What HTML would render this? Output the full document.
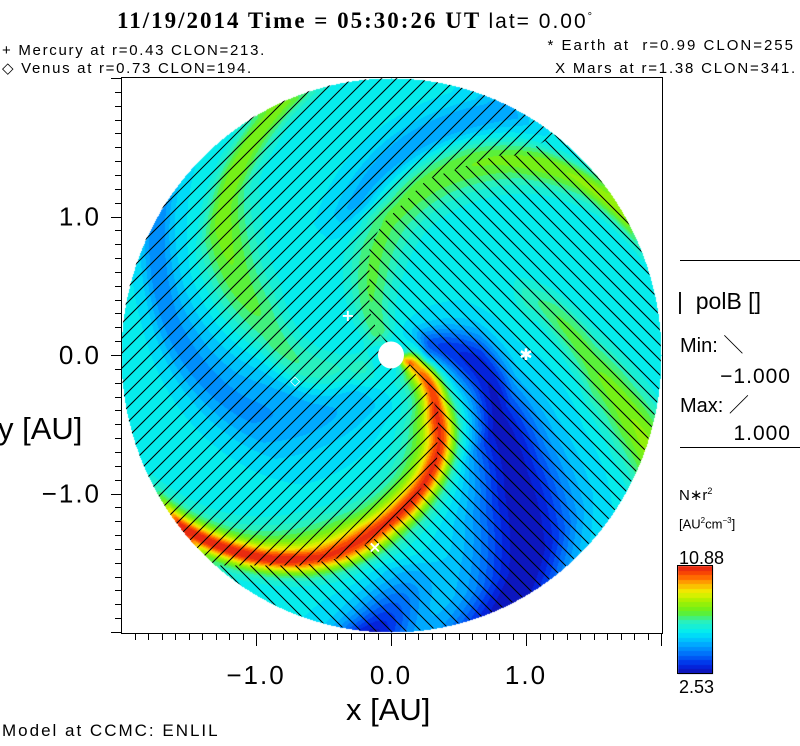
<!DOCTYPE html>
<html><head><meta charset="utf-8">
<style>
html,body{margin:0;padding:0;background:#fff;}
#root{position:relative;width:800px;height:746px;overflow:hidden;font-family:"Liberation Sans",sans-serif;color:#000;}
.t{position:absolute;white-space:nowrap;line-height:1;}
canvas{position:absolute;left:0;top:0;}
svg{position:absolute;left:0;top:0;}
</style></head>
<body>
<div id="root">
<canvas id="heat" width="800" height="746"></canvas>
<svg id="ov" width="800" height="746"></svg>

<div class="t" style="left:117px;top:9px;font-family:'Liberation Serif',serif;font-weight:bold;font-size:23px;letter-spacing:2px;">11/19/2014 Time = 05:30:26 UT <span style="font-family:'Liberation Sans',sans-serif;font-weight:normal;font-size:21px;letter-spacing:2px;">lat= 0.00<sup style="font-size:11px">°</sup></span></div>
<div class="t" style="left:2px;top:43px;font-size:15px;letter-spacing:1.7px;">+ Mercury at r=0.43 CLON=213.</div>
<div class="t" style="left:2px;top:61px;font-size:15px;letter-spacing:1.7px;">◇ Venus at r=0.73 CLON=194.</div>
<div class="t" style="right:5px;top:38px;font-size:15px;letter-spacing:2px;">* Earth at &nbsp;r=0.99 CLON=255</div>
<div class="t" style="right:3px;top:61px;font-size:15px;letter-spacing:1.8px;">X Mars at r=1.38 CLON=341.</div>

<div class="t" style="left:-2px;top:413px;font-size:31px;">y [AU]</div>
<div class="t" style="left:346px;top:694px;font-size:31px;">x [AU]</div>
<div class="t" style="left:2px;top:722px;font-size:17px;letter-spacing:2px;">Model at CCMC: ENLIL</div>

<div class="t" style="left:677px;top:290px;font-size:23px;">|&nbsp; polB []</div>
<div class="t" style="left:680px;top:336px;font-size:20px;">Min: ＼</div>
<div class="t" style="right:9px;top:366px;font-size:21px;letter-spacing:1px;">−1.000</div>
<div class="t" style="left:680px;top:396px;font-size:20px;">Max: ／</div>
<div class="t" style="right:9px;top:423px;font-size:21px;letter-spacing:1px;">1.000</div>
<div class="t" style="left:679px;top:487px;font-size:15px;">N∗r<sup style="font-size:9px">2</sup></div>
<div class="t" style="left:679px;top:517px;font-size:13px;">[AU<sup style="font-size:8px">2</sup>cm<sup style="font-size:8px">−3</sup>]</div>
<div class="t" style="left:679px;top:549px;font-size:18px;">10.88</div>
<div class="t" style="left:679px;top:678px;font-size:18px;">2.53</div>
</div>

<script>
// ---- data ----
const vMin = 2.53, vMax = 10.88;
const baseFrac = 0.38;
const xTickLabels = ["−1.0", "0.0", "1.0"];
const xTickValues = [-1, 0, 1];
const yTickLabels = ["1.0", "0.0", "−1.0"];
const yTickValues = [1, 0, -1];
// spiral structures: radii (AU), centre angle (deg), amplitude (fraction of range), width (AU)
const armA_r = [0.15, 0.52, 0.71, 0.88, 1.06, 1.27, 1.51, 1.69, 1.84, 1.98];
const armA_th = [-20, -50, -59, -70, -82, -95, -107, -119, -130, -141];
const armA_amp = [0.3, 0.32, 0.32, 0.32, 0.32, 0.32, 0.33, 0.34, 0.34, 0.34];
const armA_w = [0.05, 0.07, 0.08, 0.09, 0.1, 0.11, 0.12, 0.13, 0.14, 0.14];
const haloA_r = [0.15, 0.52, 0.88, 1.27, 1.69, 1.98];
const haloA_th = [-22, -54, -73, -98, -121, -140];
const haloA_amp = [0.22, 0.28, 0.28, 0.28, 0.28, 0.28];
const haloA_w = [0.1, 0.15, 0.19, 0.23, 0.25, 0.25];
const armB_r = [0.21, 0.56, 0.94, 1.26, 1.59, 1.83, 1.98];
const armB_th = [119, 105, 92, 78, 62, 47, 33];
const armB_amp = [0.15, 0.17, 0.17, 0.19, 0.21, 0.24, 0.28];
const armB_w = [0.08, 0.13, 0.17, 0.2, 0.22, 0.22, 0.22];
const armB2_r = [1.1, 1.27, 1.51, 1.78, 2.0];
const armB2_th = [22, 11, -4, -13, -19];
const armB2_amp = [0.1, 0.17, 0.2, 0.24, 0.26];
const armB2_w = [0.12, 0.15, 0.17, 0.18, 0.18];
const armC_r = [0.25, 0.54, 0.68, 0.97, 1.31, 1.61, 1.80, 1.98];
const armC_th = [201, 193, 186, 165, 152, 141, 128, 115];
const armC_amp = [0.1, 0.14, 0.15, 0.16, 0.2, 0.23, 0.24, 0.23];
const armC_w = [0.08, 0.12, 0.14, 0.17, 0.2, 0.2, 0.2, 0.2];
const lowL1_r = [0.3, 0.66, 0.93, 1.31, 1.8, 2.0];
const lowL1_th = [12, -8, -32, -45, -56, -64];
const lowL1_amp = [-0.26, -0.33, -0.36, -0.37, -0.38, -0.38];
const lowL1_w = [0.1, 0.18, 0.22, 0.28, 0.34, 0.36];
const lowL2_r = [1.0, 1.11, 1.57, 1.95];
const lowL2_th = [108, 103, 82, 65];
const lowL2_amp = [-0.06, -0.12, -0.14, -0.12];
const lowL2_w = [0.1, 0.14, 0.16, 0.16];
const lowL3_r = [0.4, 0.8, 1.14, 1.61, 1.87, 2.0];
const lowL3_th = [225, 210, 200, 174, 158, 150];
const lowL3_amp = [-0.08, -0.12, -0.14, -0.15, -0.17, -0.17];
const lowL3_w = [0.18, 0.24, 0.28, 0.22, 0.18, 0.18];
const lowBot_r = [1.6, 1.85, 2.0];
const lowBot_th = [-86, -91, -94];
const lowBot_amp = [-0.1, -0.25, -0.35];
const lowBot_w = [0.18, 0.18, 0.18];
// current-sheet boundary (x,y in AU) of the negative polarity sector
const sheetLow_x = [0.12, 0.35, 0.34, 0.22, -0.09, -0.35, -0.67, -1.04, -1.30, -1.40];
const sheetLow_y = [-0.04, -0.40, -0.76, -0.97, -1.31, -1.46, -1.52, -1.52, -1.52, -1.52];
const sheetUp_x = [1.21, 0.97, 0.78, 0.27, -0.07, -0.16, -0.16, -0.10, 0.0];
const sheetUp_y = [1.59, 1.44, 1.44, 1.27, 0.94, 0.78, 0.32, 0.17, 0.05];
const planets_name = ["mercury", "venus", "earth", "mars"];
const planets_x = [-0.32, -0.71, 1.0, -0.12];
const planets_y = [0.28, -0.18, 0.0, -1.39];
const planets_sym = ["+", "◇", "✱", "×"];

// ---- geometry ----
const cx = 391, cy = 355, sx = 135, sy = 138.5, R = 2.0;
const fx0 = 121, fy0 = 77, fx1 = 662, fy1 = 633;
const X = v => cx + v * sx;
const Y = v => cy - v * sy;

const cmapStops = [
  [0.00, [16, 16, 176]], [0.08, [0, 40, 230]], [0.18, [0, 110, 250]], [0.28, [0, 175, 255]],
  [0.38, [0, 235, 245]], [0.48, [40, 240, 190]], [0.58, [100, 240, 30]], [0.68, [170, 240, 0]],
  [0.76, [240, 240, 0]], [0.84, [255, 170, 0]], [0.92, [255, 80, 0]], [1.00, [225, 30, 20]]
];
function cmap(f) {
  f = Math.max(0, Math.min(0.999, f));
  f = Math.floor(f * 24) / 24 + 1 / 48;
  for (let i = 1; i < cmapStops.length; i++) {
    if (f <= cmapStops[i][0]) {
      const a = cmapStops[i - 1], b = cmapStops[i], t = (f - a[0]) / (b[0] - a[0]);
      return a[1].map((c, k) => Math.round(c + (b[1][k] - c) * t));
    }
  }
  return cmapStops[cmapStops.length - 1][1];
}
function interp(rs, vs, r) {
  if (r <= rs[0]) return vs[0];
  for (let i = 1; i < rs.length; i++) if (r <= rs[i]) {
    const t = (r - rs[i - 1]) / (rs[i] - rs[i - 1]); return vs[i - 1] + (vs[i] - vs[i - 1]) * t;
  }
  return vs[vs.length - 1];
}
const arms = [
  [armA_r, armA_th, armA_amp, armA_w], [haloA_r, haloA_th, haloA_amp, haloA_w],
  [armB_r, armB_th, armB_amp, armB_w],
  [armB2_r, armB2_th, armB2_amp, armB2_w], [armC_r, armC_th, armC_amp, armC_w],
  [lowL1_r, lowL1_th, lowL1_amp, lowL1_w], [lowL2_r, lowL2_th, lowL2_amp, lowL2_w],
  [lowL3_r, lowL3_th, lowL3_amp, lowL3_w], [lowBot_r, lowBot_th, lowBot_amp, lowBot_w]
];
function field(r, th) {
  let f = baseFrac;
  for (const [rs, ths, amps, ws] of arms) {
    let fade = 1;
    if (r < rs[0]) fade = Math.exp(-Math.pow((rs[0] - r) / 0.1, 2));
    if (r > rs[rs.length - 1]) fade = Math.exp(-Math.pow((r - rs[rs.length - 1]) / 0.1, 2));
    const tc = interp(rs, ths, r);
    let d = th - tc; d = ((d + 540) % 360) - 180;
    const dist = Math.max(r, 0.2) * d * Math.PI / 180;
    const w = interp(rs, ws, r);
    f += fade * interp(rs, amps, r) * Math.exp(-dist * dist / (2 * w * w));
  }
  return f;
}

// ---- heatmap ----
const cv = document.getElementById('heat'), ctx = cv.getContext('2d');
const img = ctx.createImageData(800, 746);
for (let py = fy0; py <= fy1; py++) for (let px = fx0; px <= fx1; px++) {
  const x = (px - cx) / sx, y = (cy - py) / sy, r = Math.hypot(x, y);
  if (r > R) continue;
  const th = Math.atan2(y, x) * 180 / Math.PI;
  const c = cmap(field(r, th));
  const i = (py * 800 + px) * 4;
  img.data[i] = c[0]; img.data[i + 1] = c[1]; img.data[i + 2] = c[2]; img.data[i + 3] = 255;
}
for (let py = 566; py <= 673; py++) for (let px = 678; px <= 712; px++) {
  const c = cmap((673 - py) / 107);
  const i = (py * 800 + px) * 4;
  img.data[i] = c[0]; img.data[i + 1] = c[1]; img.data[i + 2] = c[2]; img.data[i + 3] = 255;
}
ctx.putImageData(img, 0, 0);

// ---- overlay ----
const NS = 'http://www.w3.org/2000/svg';
const ov = document.getElementById('ov');
function mk(tag, attrs, parent) {
  const e = document.createElementNS(NS, tag);
  for (const k in attrs) e.setAttribute(k, attrs[k]);
  (parent || ov).appendChild(e); return e;
}
const defs = mk('defs', {});
let pts = [];
for (let i = 0; i < sheetLow_x.length; i++) pts.push([X(sheetLow_x[i]), Y(sheetLow_y[i])]);
const aStart = Math.atan2(Y(sheetLow_y[sheetLow_y.length - 1]) - cy, X(sheetLow_x[sheetLow_x.length - 1]) - cx);
let aEnd = Math.atan2(Y(sheetUp_y[0]) - cy, X(sheetUp_x[0]) - cx);
while (aEnd > aStart) aEnd -= 2 * Math.PI;
for (let k = 0; k <= 60; k++) {
  const a = aStart + (aEnd - aStart) * k / 60;
  pts.push([cx + 272 * Math.cos(a), cy + 279 * Math.sin(a)]);
}
for (let i = 0; i < sheetUp_x.length; i++) pts.push([X(sheetUp_x[i]), Y(sheetUp_y[i])]);
const polyStr = pts.map(p => p[0].toFixed(1) + ',' + p[1].toFixed(1)).join(' ');
const cpNeg = mk('clipPath', { id: 'cneg' }, defs);
mk('polygon', { points: polyStr }, cpNeg);
const cpDisc = mk('clipPath', { id: 'cdisc' }, defs);
mk('ellipse', { cx: cx, cy: cy, rx: 270, ry: 277 }, cpDisc);
const mPos = mk('mask', { id: 'mpos' }, defs);
mk('ellipse', { cx: cx, cy: cy, rx: 270, ry: 277, fill: '#fff' }, mPos);
mk('polygon', { points: polyStr, fill: '#000' }, mPos);

const gPos = mk('g', { mask: 'url(#mpos)', stroke: '#000', 'stroke-width': 1 });


for (let c = 100; c < 1300; c += 15) mk('line', { x1: c - 700, y1: 700, x2: c, y2: 0 }, gPos);
const gNeg0 = mk('g', { 'clip-path': 'url(#cdisc)' });
const gNeg = mk('g', { 'clip-path': 'url(#cneg)', stroke: '#000', 'stroke-width': 1 }, gNeg0);


for (let c = -600; c < 800; c += 15) mk('line', { x1: c, y1: 0, x2: c + 700, y2: 700 }, gNeg);

const sun = mk('ellipse', { cx: cx, cy: cy, rx: 13, ry: 13.5, fill: '#fff' });



for (let i = 0; i < planets_name.length; i++) {
  const t = mk('text', { x: X(planets_x[i]), y: Y(planets_y[i]) + 5, 'text-anchor': 'middle', fill: '#fff', 'font-size': i === 1 ? 13 : 16, 'font-weight': 'bold', 'font-family': 'DejaVu Sans, sans-serif' });
  t.textContent = planets_sym[i];
  
  
}

const frame = mk('rect', { x: fx0 + 0.5, y: fy0 + 0.5, width: fx1 - fx0, height: fy1 - fy0, fill: 'none', stroke: '#000', 'stroke-width': 1 });


mk('line', { x1: 680, y1: 260.5, x2: 800, y2: 260.5, stroke: '#000' });
mk('line', { x1: 680, y1: 447.5, x2: 800, y2: 447.5, stroke: '#000' });
const cbf = mk('rect', { x: 677.5, y: 565.5, width: 35, height: 108, fill: 'none', stroke: '#000' });



const gT = mk('g', { stroke: '#000', 'stroke-width': 1 });


for (let k = -20; k <= 20; k++) {
  const v = k / 10, major = k % 10 === 0;
  const px = Math.round(X(v)) + 0.5;
  if (px > fx0 + 1 && px < fx1) mk('line', { x1: px, y1: fy1 + 1, x2: px, y2: fy1 + (major ? 13 : 7) }, gT);
  const py = Math.round(Y(v)) + 0.5;
  if (py > fy0 + 1 && py < fy1) mk('line', { x1: fx0, y1: py, x2: fx0 - (major ? 10 : 6), y2: py }, gT);
}
for (let i = 0; i < xTickValues.length; i++) {
  const t = mk('text', { x: X(xTickValues[i]), y: 684, 'text-anchor': 'middle', 'font-size': 26, 'letter-spacing': 2, 'font-family': 'Liberation Sans, sans-serif' });
  t.textContent = xTickLabels[i];
  
  
}
for (let i = 0; i < yTickValues.length; i++) {
  const t = mk('text', { x: 101, y: Y(yTickValues[i]) + 9, 'text-anchor': 'end', 'font-size': 26, 'letter-spacing': 2, 'font-family': 'Liberation Sans, sans-serif' });
  t.textContent = yTickLabels[i];
  
  
}
</script>
</body></html>
